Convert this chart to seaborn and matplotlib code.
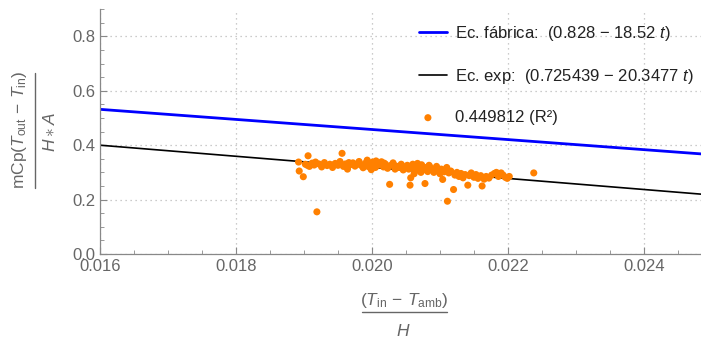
import numpy as np
import pandas as pd
import matplotlib
matplotlib.use('Agg')
import matplotlib.pyplot as plt
from matplotlib.lines import Line2D
from matplotlib.ticker import MultipleLocator
from matplotlib.legend_handler import HandlerPathCollection
import seaborn as sns

x_vals = [0.01892, 0.01893, 0.01899, 0.01906, 0.01902, 0.01908, 0.01912, 0.01915, 0.01919, 0.01922,
          0.01926, 0.01930, 0.01934, 0.01938, 0.01942, 0.01946, 0.01950, 0.01953, 0.01956, 0.01958,
          0.01961, 0.01964, 0.01968, 0.01972, 0.01975, 0.01978, 0.01981, 0.01984, 0.01987, 0.01990,
          0.01993, 0.01995, 0.01997, 0.01999, 0.02001, 0.02003, 0.02005, 0.02008, 0.02011, 0.02014,
          0.02017, 0.02020, 0.02023, 0.02026, 0.02028, 0.02031, 0.02034, 0.02037, 0.02040, 0.02043,
          0.02046, 0.02049, 0.02052, 0.02054, 0.02056, 0.02057, 0.02058, 0.02060, 0.02062, 0.02064,
          0.02066, 0.02068, 0.02070, 0.02072, 0.02074, 0.02076, 0.02078, 0.02080, 0.02082, 0.02085,
          0.02088, 0.02091, 0.02094, 0.02097, 0.02100, 0.02102, 0.02104, 0.02106, 0.02108, 0.02111,
          0.02113, 0.02116, 0.02120, 0.02122, 0.02125, 0.02128, 0.02131, 0.02134, 0.02137, 0.02141,
          0.02143, 0.02146, 0.02150, 0.02153, 0.02156, 0.02160, 0.02162, 0.02165, 0.02168, 0.02172,
          0.02176, 0.02180, 0.02183, 0.02186, 0.02190, 0.02193, 0.02196, 0.02199, 0.02202, 0.02238,
          0.01905, 0.01917, 0.01944, 0.01966, 0.01992, 0.02006, 0.02018, 0.02032, 0.02044, 0.02061,
          0.02067, 0.02073, 0.02084, 0.02095, 0.02110]
y_vals = [0.338, 0.305, 0.284, 0.361, 0.330, 0.322, 0.334, 0.327, 0.155, 0.331,
          0.320, 0.336, 0.325, 0.330, 0.318, 0.333, 0.326, 0.340, 0.370, 0.322,
          0.331, 0.312, 0.328, 0.335, 0.323, 0.330, 0.340, 0.326, 0.317, 0.333,
          0.345, 0.321, 0.330, 0.310, 0.338, 0.325, 0.318, 0.333, 0.327, 0.339,
          0.320, 0.330, 0.315, 0.256, 0.326, 0.335, 0.312, 0.322, 0.318, 0.330,
          0.309, 0.320, 0.326, 0.312, 0.253, 0.280, 0.318, 0.330, 0.295, 0.322,
          0.308, 0.325, 0.315, 0.300, 0.322, 0.310, 0.259, 0.318, 0.303, 0.320,
          0.312, 0.300, 0.315, 0.305, 0.295, 0.312, 0.274, 0.302, 0.310, 0.194,
          0.298, 0.305, 0.237, 0.290, 0.300, 0.285, 0.296, 0.280, 0.292, 0.253,
          0.288, 0.298, 0.282, 0.292, 0.278, 0.288, 0.250, 0.275, 0.285, 0.279,
          0.290, 0.296, 0.300, 0.285, 0.298, 0.290, 0.282, 0.278, 0.285, 0.298,
          0.326, 0.338, 0.328, 0.336, 0.328, 0.342, 0.334, 0.328, 0.322, 0.315,
          0.333, 0.328, 0.326, 0.322, 0.318]

# fitted equations: a - b*t
fab_a, fab_b = 0.828, 18.52
exp_a, exp_b = 0.725439, 20.3477
r2 = 0.449812

x_range = [0.016, 0.02484]
y_range = [0.0, 0.9]

sns.set_style('white')
plt.rcParams['font.family'] = ['Liberation Sans', 'DejaVu Sans']
plt.rcParams['mathtext.fontset'] = 'custom'
plt.rcParams['mathtext.rm'] = 'Liberation Sans'
plt.rcParams['mathtext.it'] = 'Liberation Sans:italic'

grey = '#666666'

fig = plt.figure(figsize=(7.01, 3.38), dpi=100)
ax = fig.add_axes([0.1427, 0.2485, 0.8573, 0.7245])

t = np.linspace(x_range[0], x_range[1], 50)
lines = pd.DataFrame({'t': t,
                      'fab': fab_a - fab_b * t,
                      'exp': exp_a - exp_b * t})
sns.lineplot(data=lines, x='t', y='fab', ax=ax, color='#0000ff', linewidth=2.0,
             label=r'Ec. fábrica:  (0.828 $-$ 18.52 $t$)')
sns.lineplot(data=lines, x='t', y='exp', ax=ax, color='black', linewidth=1.2,
             label=r'Ec. exp:  (0.725439 $-$ 20.3477 $t$)')

pts = pd.DataFrame({'x': x_vals, 'y': y_vals})
sns.scatterplot(data=pts, x='x', y='y', ax=ax, color='#ff8000', s=26,
                edgecolor='none', label=f'{r2} (R²)', zorder=3)

ax.set_xlim(x_range)
ax.set_ylim(y_range)
ax.xaxis.set_major_locator(MultipleLocator(0.002))
ax.xaxis.set_minor_locator(MultipleLocator(0.0005))
ax.yaxis.set_major_locator(MultipleLocator(0.2))
ax.yaxis.set_minor_locator(MultipleLocator(0.05))
ax.xaxis.set_major_formatter(plt.FuncFormatter(lambda v, p: f'{v:.3f}'))
ax.yaxis.set_major_formatter(plt.FuncFormatter(lambda v, p: f'{v:.1f}'))

ax.grid(True, which='major', linestyle=(0, (1, 3)), color='#bbbbbb', linewidth=0.9)
for s in ['top', 'right']:
    ax.spines[s].set_visible(False)
for s in ['left', 'bottom']:
    ax.spines[s].set_color('#888888')
    ax.spines[s].set_linewidth(0.9)
ax.tick_params(which='major', direction='in', length=5, color='#888888',
               labelsize=12, labelcolor=grey, left=True, bottom=True)
ax.tick_params(which='minor', direction='in', length=3, color='#888888',
               left=True, bottom=True)
ax.set_xlabel('')
ax.set_ylabel('')

# axis labels as stacked fractions (Mathematica style)
fig.text(0.5763, 0.1124, r'$(T_{\mathrm{in}}\,-\,T_{\mathrm{amb}})$', fontsize=12.5, color=grey,
         ha='center', va='center')
fig.add_artist(Line2D([0.5164, 0.6377], [0.0769, 0.0769], transform=fig.transFigure,
                      color=grey, linewidth=1.0))
fig.text(0.5749, 0.0207, r'$H$', fontsize=12.5, color=grey, ha='center', va='center')

fig.text(0.0285, 0.6154, r'$\mathrm{mCp}(T_{\mathrm{out}}\,-\,T_{\mathrm{in}})$', fontsize=12.5,
         color=grey, ha='center', va='center', rotation=90)
fig.add_artist(Line2D([0.0499, 0.0499], [0.4438, 0.7840], transform=fig.transFigure,
                      color=grey, linewidth=1.0))
fig.text(0.0713, 0.6095, r'$H \ast A$', fontsize=12.5, color=grey, ha='center', va='center',
         rotation=90)

handles, labels = ax.get_legend_handles_labels()
leg = ax.legend(handles, labels, loc='upper right', bbox_to_anchor=(1.008, 0.988), frameon=False,
                fontsize=12, handlelength=1.7, labelspacing=1.45, handletextpad=0.5,
                borderaxespad=0.3,
                handler_map={handles[2]: HandlerPathCollection(xpad=-0.6)})
for txt in leg.get_texts():
    txt.set_color('#222222')

fig.savefig('out.png', dpi=100)
